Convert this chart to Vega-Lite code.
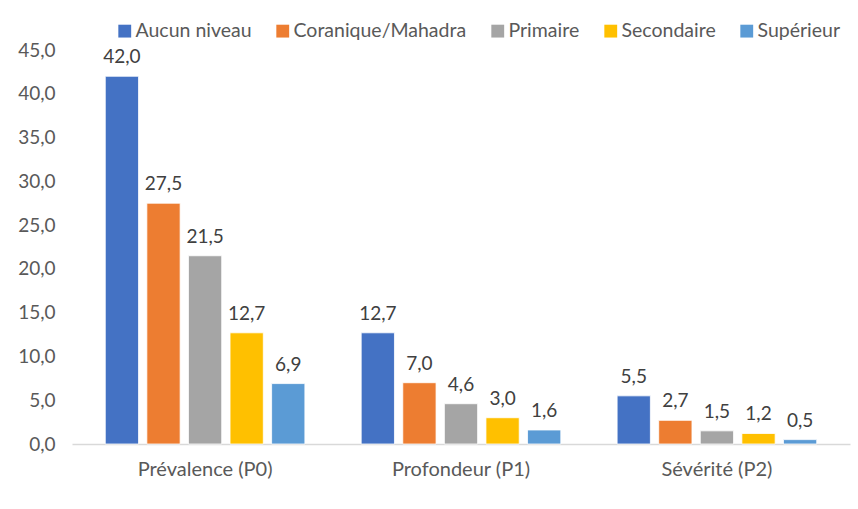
{
  "$schema": "https://vega.github.io/schema/vega-lite/v6.json",
  "width": 778,
  "height": 394,
  "autosize": {"type": "none"},
  "padding": {"left": 72, "top": 50, "right": 8, "bottom": 65},
  "background": "white",
  "config": {
    "view": {"stroke": null},
    "font": "Lato",
    "locale": {"number": {"decimal": ",", "thousands": " ", "grouping": [3], "currency": ["", " €"]}}
  },
  "data": {
    "values": [
      {"indice": "Prévalence (P0)", "niveau": "Aucun niveau", "valeur": 42.0},
      {"indice": "Prévalence (P0)", "niveau": "Coranique/Mahadra", "valeur": 27.5},
      {"indice": "Prévalence (P0)", "niveau": "Primaire", "valeur": 21.5},
      {"indice": "Prévalence (P0)", "niveau": "Secondaire", "valeur": 12.7},
      {"indice": "Prévalence (P0)", "niveau": "Supérieur", "valeur": 6.9},
      {"indice": "Profondeur (P1)", "niveau": "Aucun niveau", "valeur": 12.7},
      {"indice": "Profondeur (P1)", "niveau": "Coranique/Mahadra", "valeur": 7.0},
      {"indice": "Profondeur (P1)", "niveau": "Primaire", "valeur": 4.6},
      {"indice": "Profondeur (P1)", "niveau": "Secondaire", "valeur": 3.0},
      {"indice": "Profondeur (P1)", "niveau": "Supérieur", "valeur": 1.6},
      {"indice": "Sévérité (P2)", "niveau": "Aucun niveau", "valeur": 5.5},
      {"indice": "Sévérité (P2)", "niveau": "Coranique/Mahadra", "valeur": 2.7},
      {"indice": "Sévérité (P2)", "niveau": "Primaire", "valeur": 1.5},
      {"indice": "Sévérité (P2)", "niveau": "Secondaire", "valeur": 1.2},
      {"indice": "Sévérité (P2)", "niveau": "Supérieur", "valeur": 0.5}
    ]
  },
  "encoding": {
    "x": {
      "field": "indice", "type": "nominal", "sort": null,
      "scale": {"paddingInner": 0.22, "paddingOuter": 0.13},
      "axis": {
        "title": null, "labelAngle": 0, "ticks": false,
        "domainColor": "#D9D9D9", "domainWidth": 1.5,
        "labelFontSize": 20, "labelColor": "#595959", "labelPadding": 15
      }
    },
    "xOffset": {
      "field": "niveau", "type": "nominal", "sort": null,
      "scale": {"paddingInner": 0.2}
    },
    "y": {
      "field": "valeur", "type": "quantitative",
      "scale": {"domain": [0, 45]},
      "axis": {
        "title": null, "values": [0, 5, 10, 15, 20, 25, 30, 35, 40, 45],
        "format": ".1f", "grid": false, "domain": false, "ticks": false,
        "labelFontSize": 19, "labelColor": "#595959", "labelPadding": 17
      }
    }
  },
  "layer": [
    {
      "mark": {"type": "bar", "stroke": "white", "strokeWidth": 0.8},
      "encoding": {
        "color": {
          "field": "niveau", "type": "nominal", "sort": null,
          "scale": {
            "domain": ["Aucun niveau", "Coranique/Mahadra", "Primaire", "Secondaire", "Supérieur"],
            "range": ["#4472C4", "#ED7D31", "#A5A5A5", "#FFC000", "#5B9BD5"]
          },
          "legend": {
            "title": null, "orient": "none", "direction": "horizontal",
            "legendX": 43, "legendY": -29,
            "symbolType": "square", "symbolSize": 165, "symbolStrokeWidth": 0,
            "labelFontSize": 19.5, "labelColor": "#595959", "labelLimit": 0,
            "columnPadding": 21, "labelOffset": 1
          }
        }
      }
    },
    {
      "mark": {"type": "text", "baseline": "bottom", "dy": -9, "fontSize": 19, "color": "#404040"},
      "encoding": {
        "text": {"field": "valeur", "type": "quantitative", "format": ".1f"}
      }
    }
  ]
}
